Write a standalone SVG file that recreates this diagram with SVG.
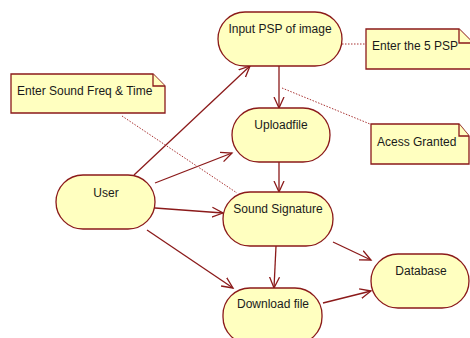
<svg xmlns="http://www.w3.org/2000/svg" width="470" height="338" viewBox="0 0 470 338">
<style>
.n{fill:#ffffc0;stroke:#8b1a1a;stroke-width:1.3}
.t{font-family:"Liberation Sans",Arial,sans-serif;font-size:12px;fill:#1a1a1a}
.c{fill:none;stroke:#8b1a1a;stroke-width:1.3}
.d{fill:none;stroke:#a83232;stroke-width:1;stroke-dasharray:1.5,1.5}
</style>
<defs>
<marker id="ah" markerUnits="userSpaceOnUse" markerWidth="14" markerHeight="14" refX="11" refY="6" orient="auto">
<path d="M0,1 L11,6 L0,11" fill="none" stroke="#8b1a1a" stroke-width="1.3"/>
</marker>
</defs>
<g id="connectors">
<line class="c" x1="134" y1="175" x2="250" y2="66" marker-end="url(#ah)"/>
<line class="c" x1="155" y1="183" x2="232" y2="153" marker-end="url(#ah)"/>
<line class="c" x1="155" y1="208" x2="223" y2="213" marker-end="url(#ah)"/>
<line class="c" x1="147" y1="230" x2="233" y2="288" marker-end="url(#ah)"/>
<line class="c" x1="279" y1="66" x2="279" y2="108" marker-end="url(#ah)"/>
<line class="c" x1="279" y1="162" x2="279" y2="192" marker-end="url(#ah)"/>
<line class="c" x1="276" y1="246" x2="274" y2="288" marker-end="url(#ah)"/>
<line class="c" x1="333" y1="242" x2="371" y2="260" marker-end="url(#ah)"/>
<line class="c" x1="323" y1="303" x2="371" y2="291" marker-end="url(#ah)"/>
<line class="d" x1="342" y1="44" x2="366" y2="44"/>
<line class="d" x1="282" y1="88" x2="370" y2="124"/>
<line class="d" x1="122" y1="116" x2="237" y2="193"/>
</g>
<g id="input-psp">
<rect class="n" x="218" y="12" width="124" height="54" rx="27"/>
<text class="t" x="280" y="33" text-anchor="middle">Input PSP of image</text>
</g>
<g id="uploadfile">
<rect class="n" x="232" y="108" width="98" height="54" rx="27"/>
<text class="t" x="281" y="129" text-anchor="middle">Uploadfile</text>
</g>
<g id="user">
<rect class="n" x="56" y="175" width="99" height="54" rx="27"/>
<text class="t" x="106" y="197" text-anchor="middle">User</text>
</g>
<g id="sound-signature">
<rect class="n" x="223" y="192" width="110" height="54" rx="27"/>
<text class="t" x="278" y="213" text-anchor="middle">Sound Signature</text>
</g>
<g id="download-file">
<rect class="n" x="223" y="288" width="99" height="56" rx="27"/>
<text class="t" x="273" y="308" text-anchor="middle">Download file</text>
</g>
<g id="database">
<rect class="n" x="371" y="254" width="98" height="54" rx="27"/>
<text class="t" x="421" y="275" text-anchor="middle">Database</text>
</g>
<g id="note-psp">
<path class="n" d="M366,29 L459,29 L480,50 L480,69 L366,69 Z"/>
<path class="n" d="M459,29 L459,43 L473,43"/>
<text class="t" x="372" y="50">Enter the 5 PSP</text>
</g>
<g id="note-freq">
<path class="n" d="M11,74 L153,74 L165,86 L165,113 L11,113 Z"/>
<path class="n" d="M153,74 L153,86 L165,86"/>
<text class="t" x="17" y="95">Enter Sound Freq &amp; Time</text>
</g>
<g id="note-access">
<path class="n" d="M371,124 L459,124 L469,136 L469,164 L371,164 Z"/>
<path class="n" d="M459,124 L459,136 L469,136"/>
<text class="t" x="377" y="146">Acess Granted</text>
</g>
</svg>
